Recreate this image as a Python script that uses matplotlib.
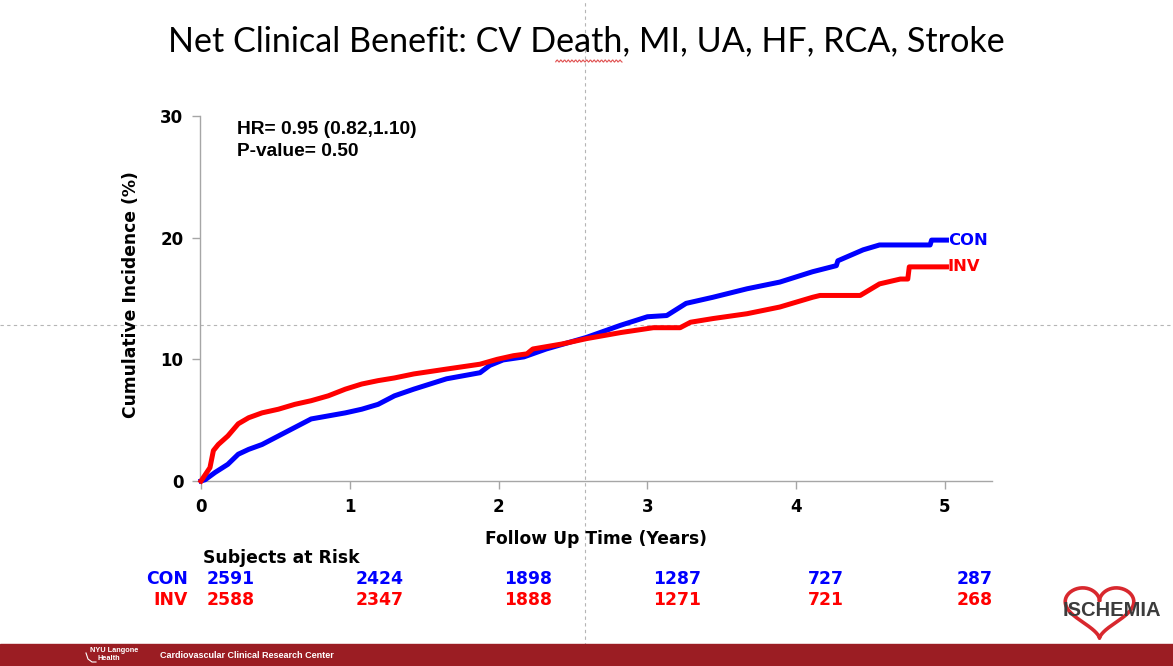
import numpy as np
import matplotlib.pyplot as plt
from matplotlib.lines import Line2D
from matplotlib.patches import Rectangle

W, H = 1173, 666

# cumulative incidence (%)
con_years = [0, 0.027, 0.094, 0.18, 0.25, 0.32, 0.41, 0.52, 0.63, 0.74, 0.855, 0.97,
             1.08, 1.19, 1.30, 1.43, 1.65, 1.875, 1.94, 2.03, 2.17, 2.32, 2.59, 2.82,
             3.0, 3.13, 3.26, 3.44, 3.67, 3.89, 4.11, 4.27, 4.28, 4.45, 4.56, 4.9,
             4.91, 5.01]
con_pct = [0, 0.1, 0.7, 1.37, 2.2, 2.6, 3.0, 3.7, 4.4, 5.1, 5.35, 5.6,
           5.9, 6.3, 7.0, 7.55, 8.4, 8.9, 9.5, 9.95, 10.2, 10.85, 11.8, 12.8,
           13.5, 13.6, 14.6, 15.1, 15.8, 16.35, 17.2, 17.7, 18.1, 19.0, 19.4, 19.4,
           19.8, 19.8]

inv_years = [0, 0.06, 0.083, 0.116, 0.18, 0.25, 0.32, 0.41, 0.52, 0.63, 0.74, 0.855,
             0.97, 1.08, 1.19, 1.30, 1.43, 1.65, 1.875, 1.99, 2.10, 2.19, 2.23, 2.43,
             2.59, 2.82, 3.04, 3.22, 3.29, 3.44, 3.67, 3.89, 4.0, 4.11, 4.16, 4.43,
             4.56, 4.70, 4.75, 4.76, 5.01]
inv_pct = [0, 1.1, 2.5, 3.0, 3.7, 4.7, 5.2, 5.6, 5.9, 6.3, 6.6, 7.0,
           7.55, 7.97, 8.25, 8.47, 8.8, 9.2, 9.6, 10.0, 10.3, 10.45, 10.85, 11.27,
           11.7, 12.2, 12.6, 12.6, 13.05, 13.35, 13.75, 14.3, 14.7, 15.1, 15.25, 15.25,
           16.2, 16.6, 16.6, 17.6, 17.6]

risk_times = [0, 1, 2, 3, 4, 5]
con_risk = [2591, 2424, 1898, 1287, 727, 287]
inv_risk = [2588, 2347, 1888, 1271, 721, 268]

title = 'Net Clinical Benefit: CV Death, MI, UA, HF, RCA, Stroke'
hr_text = 'HR= 0.95 (0.82,1.10)\nP-value= 0.50'

BLUE = '#0000ff'
RED = '#ff0000'
GREY = '#a6a6a6'
MAROON = '#9b1d23'
GUIDE = '#b5b5b5'


def fx(x):
    return x / W


def fy(y):
    return 1 - y / H


fig = plt.figure(figsize=(W / 100, H / 100), dpi=100)
ax = fig.add_axes([fx(200), fy(481), 792 / W, 365 / H])
ax.patch.set_visible(False)

ax.plot(con_years, con_pct, color=BLUE, lw=3.6, clip_on=False, zorder=3,
        solid_joinstyle='round')
ax.plot(inv_years, inv_pct, color=RED, lw=3.6, clip_on=False, zorder=4,
        solid_joinstyle='round')

ax.set_xlim(-0.007, 5.316)
ax.set_ylim(0, 30)
ax.set_xticks(risk_times)
ax.set_yticks([0, 10, 20, 30])
for s in ['top', 'right']:
    ax.spines[s].set_visible(False)
for s in ['left', 'bottom']:
    ax.spines[s].set_color(GREY)
    ax.spines[s].set_linewidth(1)
ax.tick_params(length=6, width=1, color=GREY, labelsize=12, pad=6)
for lab in ax.get_xticklabels() + ax.get_yticklabels():
    lab.set_fontweight('bold')

ax.set_xlabel('Follow Up Time (Years)', fontsize=12.3, fontweight='bold')
ax.xaxis.set_label_coords(0.5006, -0.134)
ax.set_ylabel('Cumulative Incidence (%)', fontsize=12.3, fontweight='bold')
ax.yaxis.set_label_coords(-0.076, 0.51)

# labels at the end of each curve
ax.text(con_years[-1] + 0.01, con_pct[-1], 'CON', color=BLUE, fontsize=11.8,
        fontweight='bold', va='center', ha='left')
ax.text(inv_years[-1] + 0.01, inv_pct[-1], 'INV', color=RED, fontsize=11.8,
        fontweight='bold', va='center', ha='left')

fig.text(fx(237), fy(121), hr_text, family='Liberation Sans', fontweight='bold',
         fontsize=13.8, va='top', ha='left', linespacing=1.4)

# subjects at risk table
tr = ax.get_xaxis_transform()
ax.text(0.013, -0.21, 'Subjects at Risk', transform=tr, fontsize=12.4,
        fontweight='bold', ha='left', va='center')
ax.text(-0.09, -0.268, 'CON', transform=tr, fontsize=12.4, fontweight='bold',
        color=BLUE, ha='right', va='center')
ax.text(-0.09, -0.325, 'INV', transform=tr, fontsize=12.4, fontweight='bold',
        color=RED, ha='right', va='center')
for t, c, i in zip(risk_times, con_risk, inv_risk):
    ax.text(t + 0.2, -0.268, str(c), transform=tr, fontsize=12.4,
            fontweight='bold', color=BLUE, ha='center', va='center')
    ax.text(t + 0.2, -0.325, str(i), transform=tr, fontsize=12.4,
            fontweight='bold', color=RED, ha='center', va='center')

# slide title, with the spell-check squiggle under "eath"
title_props = dict(family='Lato', fontsize=24.6)
ttl = fig.text(fx(586), fy(41), title, ha='center', va='center', **title_props)
renderer = fig.canvas.get_renderer()


def text_width(s):
    tmp = fig.text(0, 0, s, **title_props)
    w = tmp.get_window_extent(renderer).width
    tmp.remove()
    return w


left = ttl.get_window_extent(renderer).x0
x0 = left + text_width('Net Clinical Benefit: CV D')
x1 = left + text_width('Net Clinical Benefit: CV Death')
wx = np.linspace(x0, x1, 80)
fig.add_artist(Line2D(fx(wx), fy(61 + 1.1 * np.sin(wx * 1.7)), transform=fig.transFigure,
                      color='#e05050', lw=0.8))

# slide guides
fig.add_artist(Line2D([fx(585)] * 2, [0, 1], transform=fig.transFigure,
                      color=GUIDE, lw=0.8, ls=(0, (3, 3)), zorder=-1))
fig.add_artist(Line2D([0, 1], [fy(325)] * 2, transform=fig.transFigure,
                      color=GUIDE, lw=0.8, ls=(0, (3, 3)), zorder=-1))

# footer bar
fig.add_artist(Rectangle((0, 0), 1, 22 / H, transform=fig.transFigure,
                         color=MAROON, zorder=1))
fig.text(fx(90), fy(650), 'NYU Langone', family='Liberation Sans', fontweight='bold',
         fontsize=5.3, color='white', ha='left', va='center', zorder=2)
fig.text(fx(97), fy(659), 'Health', family='Liberation Sans', fontweight='bold',
         fontsize=5.3, color='white', ha='left', va='center', zorder=2)
fig.add_artist(Line2D(fx(np.array([86, 88, 92, 96])), fy(np.array([653, 659, 662, 662])),
                      transform=fig.transFigure, color='white', lw=0.8, zorder=2))
fig.text(fx(160), fy(655), 'Cardiovascular Clinical Research Center', family='Liberation Sans',
         fontweight='bold', fontsize=6.5, color='white', ha='left', va='center', zorder=2)

# ISCHEMIA logo
lax = fig.add_axes([fx(1062), fy(640), 75 / W, 54 / H])
lax.axis('off')
t = np.linspace(0, 2 * np.pi, 300)
hx = 16 * np.sin(t) ** 3
hy = 13 * np.cos(t) - 5 * np.cos(2 * t) - 2 * np.cos(3 * t) - np.cos(4 * t)
lax.plot(hx, hy, color='#d8282e', lw=2.6)
lax.set_xlim(-17.5, 17.5)
lax.set_ylim(-18, 13)
fig.text(fx(1112), fy(611), 'ISCHEMIA', family='Liberation Sans', fontweight='bold',
         fontsize=14.5, color='#3c3c3c', ha='center', va='center')

fig.savefig('out.png', dpi=100)
